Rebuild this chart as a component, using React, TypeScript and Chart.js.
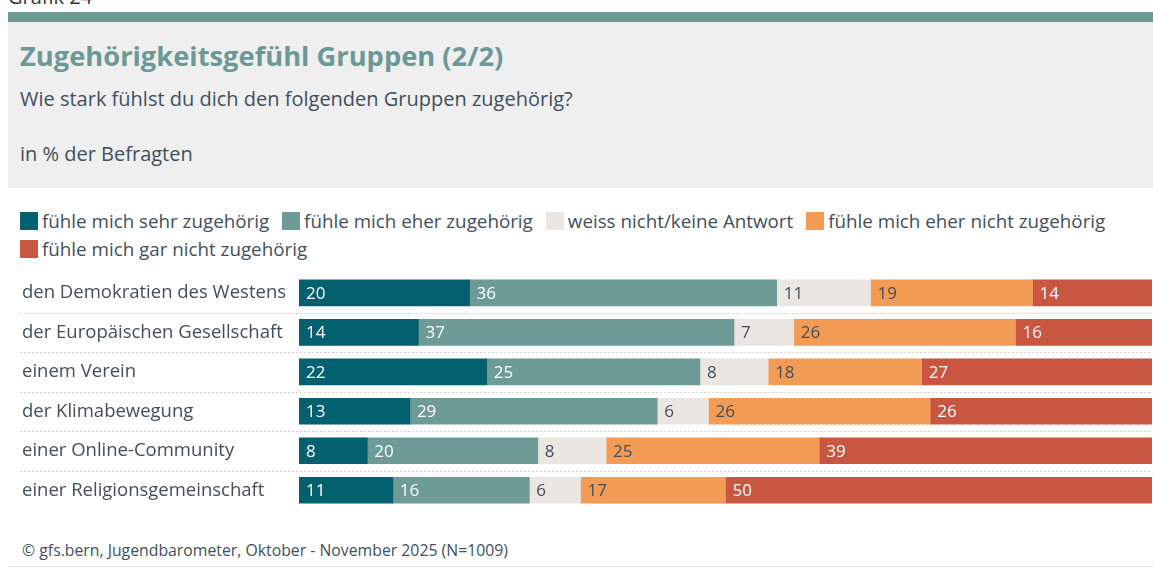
import React, { useEffect, useRef } from "react";
import { Chart, registerables } from "chart.js";

Chart.register(...registerables);

const FONT = "'Open Sans', 'Noto Sans', sans-serif";
const TEXT = "#424f5b";
const TITLE_COLOR = "#6c9996";

const categories = [
  "den Demokratien des Westens",
  "der Europäischen Gesellschaft",
  "einem Verein",
  "der Klimabewegung",
  "einer Online-Community",
  "einer Religionsgemeinschaft",
];

const seriesNames = [
  "fühle mich sehr zugehörig",
  "fühle mich eher zugehörig",
  "weiss nicht/keine Antwort",
  "fühle mich eher nicht zugehörig",
  "fühle mich gar nicht zugehörig",
];

const sehrZugehoerig = [20, 14, 22, 13, 8, 11];
const eherZugehoerig = [36, 37, 25, 29, 20, 16];
const weissNicht = [11, 7, 8, 6, 8, 6];
const eherNicht = [19, 26, 18, 26, 25, 17];
const garNicht = [14, 16, 27, 26, 39, 50];

const seriesValues = [sehrZugehoerig, eherZugehoerig, weissNicht, eherNicht, garNicht];
const seriesColors = ["#02606f", "#6e9a98", "#ebe6e2", "#f39c56", "#c95640"];
const valueColors = ["#ffffff", "#ffffff", TEXT, TEXT, "#ffffff"];

const valueLabels = {
  id: "valueLabels",
  afterDatasetsDraw(chart: any) {
    const ctx = chart.ctx;
    ctx.save();
    ctx.font = `17px ${FONT}`;
    ctx.textBaseline = "middle";
    ctx.textAlign = "left";
    chart.data.datasets.forEach((ds: any, di: number) => {
      const meta = chart.getDatasetMeta(di);
      meta.data.forEach((el: any, i: number) => {
        const p = el.getProps(["x", "y", "base"], true);
        ctx.fillStyle = valueColors[di];
        ctx.fillText(String(ds.data[i]), Math.min(p.x, p.base) + 7, p.y + 1);
      });
    });
    ctx.restore();
  },
};

const separators = {
  id: "separators",
  beforeDatasetsDraw(chart: any) {
    const ys = chart.scales.y;
    const ctx = chart.ctx;
    ctx.save();
    ctx.strokeStyle = "#d2d2d2";
    ctx.lineWidth = 1;
    ctx.setLineDash([2, 2]);
    for (let i = 0; i < categories.length - 1; i++) {
      const yy = Math.round((ys.getPixelForValue(i) + ys.getPixelForValue(i + 1)) / 2) + 0.5;
      ctx.beginPath();
      ctx.moveTo(20, yy);
      ctx.lineTo(chart.chartArea.right, yy);
      ctx.stroke();
    }
    ctx.restore();
  },
};

function BarChart() {
  const ref = useRef<HTMLCanvasElement | null>(null);
  useEffect(() => {
    if (!ref.current) return;
    const chart = new Chart(ref.current, {
      type: "bar",
      data: {
        labels: categories,
        datasets: seriesNames.map((name, i) => ({
          label: name,
          data: seriesValues[i],
          backgroundColor: seriesColors[i],
          borderWidth: 0,
          barThickness: 26,
        })),
      },
      options: {
        indexAxis: "y",
        animation: false,
        responsive: true,
        maintainAspectRatio: false,
        layout: { padding: { left: 22, right: 1, top: 10, bottom: 12 } },
        plugins: {
          legend: { display: false },
          tooltip: { enabled: false },
        },
        scales: {
          x: { stacked: true, min: 0, max: 100, display: false },
          y: {
            stacked: true,
            grid: { display: false },
            border: { display: false },
            ticks: {
              crossAlign: "far",
              color: TEXT,
              font: { family: FONT, size: 18.5 },
              padding: 0,
            },
            afterFit: (s: any) => {
              s.width = 277;
            },
          },
        },
      } as any,
      plugins: [separators, valueLabels],
    });
    return () => chart.destroy();
  }, []);
  return (
    <div style={{ position: "absolute", left: 0, top: 262, width: 1153, height: 260 }}>
      <canvas ref={ref} />
    </div>
  );
}

export default function App() {
  const abs = (top: number, left: number, size: number, extra: any = {}) => ({
    position: "absolute" as const,
    top,
    left,
    fontSize: size,
    lineHeight: `${size}px`,
    whiteSpace: "nowrap" as const,
    fontFamily: FONT,
    color: TEXT,
    ...extra,
  });
  return (
    <div
      style={{
        position: "fixed",
        left: 0,
        top: 0,
        width: 1153,
        height: 567,
        overflow: "hidden",
        background: "#ffffff",
      }}
    >
      <div style={abs(-13, 8, 20, { color: "#333" })}>Grafik 24</div>
      <div style={{ position: "absolute", left: 8, top: 12, width: 1145, height: 10, background: "#6e9995" }} />
      <div style={{ position: "absolute", left: 8, top: 22, width: 1145, height: 166, background: "#efefef" }} />
      <div style={abs(42, 20, 27.3, { color: TITLE_COLOR, fontWeight: 700 })}>
        Zugehörigkeitsgefühl Gruppen (2/2)
      </div>
      <div style={abs(89, 20, 20)}>Wie stark fühlst du dich den folgenden Gruppen zugehörig?</div>
      <div style={abs(144, 20, 20)}>in % der Befragten</div>

      <div
        style={{
          position: "absolute",
          left: 20,
          top: 212,
          width: 1125,
          display: "flex",
          flexWrap: "wrap",
          rowGap: 10,
          fontFamily: FONT,
          color: TEXT,
          fontSize: 18.8,
        }}
      >
        {seriesNames.map((name, i) => (
          <div
            key={name}
            style={{ display: "flex", alignItems: "center", height: 18, marginRight: 13 }}
          >
            <span
              style={{
                display: "inline-block",
                width: 18,
                height: 18,
                background: seriesColors[i],
                marginRight: 4,
              }}
            />
            <span style={{ lineHeight: "18px", whiteSpace: "nowrap" }}>{name}</span>
          </div>
        ))}
      </div>

      <BarChart />

      <div style={abs(543, 22, 15.8)}>© gfs.bern, Jugendbarometer, Oktober - November 2025 (N=1009)</div>
      <div style={{ position: "absolute", left: 8, top: 566, width: 1145, height: 1, background: "#e3e3e3" }} />
    </div>
  );
}
